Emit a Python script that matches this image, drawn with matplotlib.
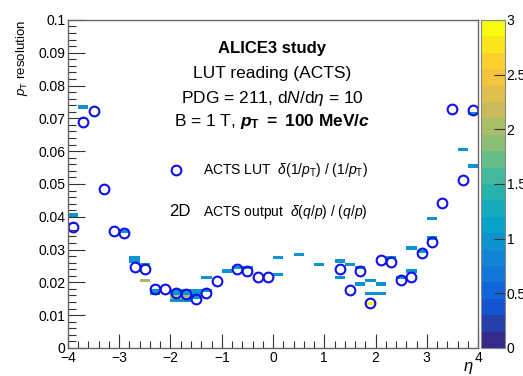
import numpy as np
import matplotlib
matplotlib.use('Agg')
import matplotlib.pyplot as plt
from matplotlib.colors import LinearSegmentedColormap

plt.rcParams['font.family'] = ['Liberation Sans', 'DejaVu Sans']
plt.rcParams['mathtext.fontset'] = 'custom'
plt.rcParams['mathtext.rm'] = 'Liberation Sans'
plt.rcParams['mathtext.it'] = 'Liberation Sans:italic'
plt.rcParams['mathtext.bf'] = 'Liberation Sans:bold'
plt.rcParams['mathtext.bfit'] = 'Liberation Sans:italic:bold'

# ACTS LUT points (open circles)
lut_eta = [-3.9, -3.7, -3.5, -3.3, -3.1, -2.9, -2.7, -2.5, -2.3, -2.1, -1.9, -1.7, -1.5, -1.3, -1.1,
           -0.7, -0.5, -0.3, -0.1, 1.3, 1.5, 1.7, 1.9, 2.1, 2.3, 2.5, 2.7, 2.9, 3.1, 3.3, 3.5, 3.7, 3.9]
lut_res = [0.0368, 0.0689, 0.0721, 0.0484, 0.0358, 0.0351, 0.0248, 0.0241, 0.0180, 0.0181, 0.0168, 0.0165,
           0.0150, 0.0168, 0.0205, 0.0241, 0.0235, 0.0217, 0.0217, 0.0241, 0.0177, 0.0235, 0.0137, 0.0269,
           0.0262, 0.0208, 0.0217, 0.0290, 0.0324, 0.0443, 0.0727, 0.0513, 0.0724]

# ACTS output, 2D histogram entries (eta bin centre, resolution bin centre, entries)
h2_eta = [-3.9, -3.7, -2.9, -2.7, -2.7, -2.5, -2.5, -2.3, -2.3,
          -1.9, -1.9, -1.9, -1.9, -1.7, -1.7, -1.7, -1.7, -1.5, -1.5, -1.5,
          -1.3, -1.3, -0.9, -0.7, -0.5, 0.1, 0.1, 0.5, 0.9, 1.3, 1.3, 1.5,
          1.7, 1.7, 1.9, 1.9, 1.9, 2.1, 2.1, 2.3, 2.5, 2.7, 2.7, 2.9,
          3.1, 3.1, 3.7, 3.9, 3.9]
h2_res = [0.0405, 0.0735, 0.0355, 0.0265, 0.0275, 0.0255, 0.0205, 0.0165, 0.0175,
          0.0145, 0.0155, 0.0165, 0.0175, 0.0145, 0.0155, 0.0165, 0.0175, 0.0155, 0.0165, 0.0175,
          0.0175, 0.0215, 0.0235, 0.0245, 0.0245, 0.0225, 0.0275, 0.0285, 0.0255, 0.0265, 0.0215, 0.0255,
          0.0245, 0.0195, 0.0205, 0.0165, 0.0135, 0.0195, 0.0165, 0.0275, 0.0215, 0.0305, 0.0235, 0.0295,
          0.0395, 0.0335, 0.0605, 0.0555, 0.0715]
h2_cnt = [1, 1, 1, 1, 1, 1, 2, 1, 1,
          1, 2, 1, 1, 1, 2, 1, 1, 1, 1, 1,
          1, 1, 1, 1, 1, 1, 1, 1, 1, 1, 1, 1,
          1, 1, 1, 1, 3, 1, 1, 1, 1, 1, 1, 1,
          1, 1, 1, 1, 1]

# ROOT kBird palette, 20 contour levels
stops = [0.0, 0.125, 0.25, 0.375, 0.5, 0.625, 0.75, 0.875, 1.0]
red = [0.2082, 0.0592, 0.0780, 0.0232, 0.1802, 0.5301, 0.8186, 0.9956, 0.9764]
green = [0.1664, 0.3599, 0.5041, 0.6419, 0.7178, 0.7492, 0.7328, 0.7862, 0.9832]
blue = [0.5293, 0.8684, 0.8385, 0.7914, 0.6425, 0.4662, 0.3499, 0.1968, 0.0539]
bird = LinearSegmentedColormap.from_list('bird', list(zip(stops, zip(red, green, blue)))).resampled(20)

fig = plt.figure(figsize=(5.23, 3.76), dpi=100)
ax = fig.add_axes([0.130, 0.0745, 0.784, 0.8725])
cax = fig.add_axes([0.920, 0.0745, 0.046, 0.8725])

eta_edges = np.linspace(-4, 4, 41)
res_edges = np.linspace(0, 0.1, 101)
_, _, _, mesh = ax.hist2d(h2_eta, h2_res, bins=[eta_edges, res_edges], weights=h2_cnt,
                          cmin=0.5, cmap=bird, vmin=0, vmax=3)

ax.plot(lut_eta, lut_res, 'o', ms=7, mfc='none', mec='#1010e8', mew=1.5)

ax.set_xlim(-4, 4)
ax.set_ylim(0, 0.1)
ax.set_xticks(np.arange(-4, 5, 1))
ax.set_xticks(np.arange(-4, 4.01, 0.2), minor=True)
ax.set_yticks(np.arange(0, 0.101, 0.01))
ax.set_yticks(np.arange(0, 0.1001, 0.002), minor=True)
ax.set_yticklabels(['0', '0.01', '0.02', '0.03', '0.04', '0.05', '0.06', '0.07', '0.08', '0.09', '0.1'])
ax.tick_params(which='both', direction='in', top=False, right=False, labelsize=10, width=0.8, color='#333333')
ax.tick_params(axis='y', which='major', length=12, pad=2)
ax.tick_params(axis='y', which='minor', length=6)
ax.tick_params(axis='x', which='major', length=10, pad=2)
ax.tick_params(axis='x', which='minor', length=5)
for s in ax.spines.values():
    s.set_color('#666666')
    s.set_linewidth(1.0)

ax.set_ylabel(r'$p_{\rm T}$ resolution', fontsize=9.5, loc='top', labelpad=6)
ax.set_xlabel(r'$\eta$', fontsize=12, loc='right')
ax.xaxis.set_label_coords(0.99, -0.038)

cb = fig.colorbar(mesh, cax=cax)
cb.set_ticks([0, 0.5, 1, 1.5, 2, 2.5, 3])
cb.set_ticklabels(['0', '0.5', '1', '1.5', '2', '2.5', '3'])
cb.ax.tick_params(direction='in', length=8, labelsize=10, width=0.8, color='#333333', pad=1)
cb.outline.set_edgecolor('#888888')

tx = 0.498
ax.text(tx, 0.912, 'ALICE3 study', transform=ax.transAxes, ha='center', va='center',
        fontsize=12, fontweight='bold')
ax.text(tx, 0.838, 'LUT reading (ACTS)', transform=ax.transAxes, ha='center', va='center', fontsize=12.5)
ax.text(tx, 0.762, r'PDG = 211, d$N$/d$\eta$ = 10', transform=ax.transAxes, ha='center', va='center',
        fontsize=12.5)
ax.text(tx, 0.689, r'B = 1 T, $\mathbfit{p}_{\mathbf{T}}$ $\mathbf{=}$ $\mathbf{100\ MeV/}\mathbfit{c}$',
        transform=ax.transAxes, ha='center', va='center', fontsize=12.5)

ax.plot([0.263], [0.543], 'o', ms=7, mfc='none', mec='#1010e8', mew=1.5, transform=ax.transAxes)
ax.text(0.329, 0.543, r'ACTS LUT  $\delta(1/p_{\rm T})\ /\ (1/p_{\rm T})$', transform=ax.transAxes,
        ha='left', va='center', fontsize=10)
ax.text(0.273, 0.415, '2D', transform=ax.transAxes, ha='center', va='center', fontsize=12)
ax.text(0.329, 0.415, r'ACTS output  $\delta(q/p)\ /\ (q/p)$', transform=ax.transAxes,
        ha='left', va='center', fontsize=10)

fig.savefig('out.png', dpi=100)
